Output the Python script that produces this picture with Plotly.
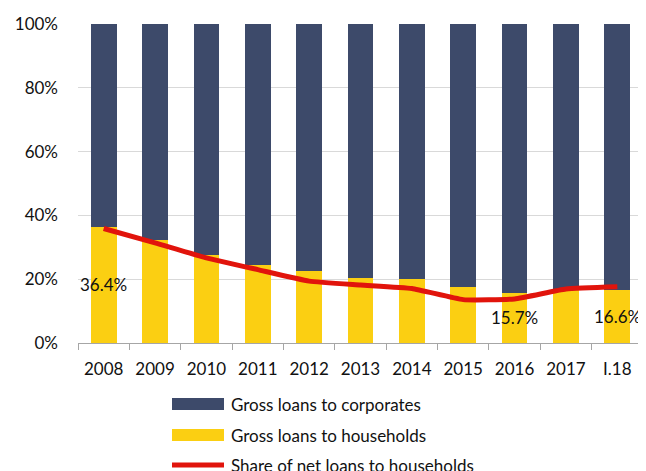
import plotly.graph_objects as go

categories = ["2008", "2009", "2010", "2011", "2012", "2013", "2014", "2015", "2016", "2017", "I.18"]
households = [36.4, 32.2, 27.7, 24.4, 22.5, 20.5, 20.2, 17.5, 15.7, 16.9, 16.6]
corporates = [round(100 - v, 1) for v in households]
net_share = [35.9, 31.4, 26.7, 23.0, 19.4, 18.2, 17.1, 13.6, 13.8, 16.9, 17.6]
labelled = ["2008", "2016", "I.18"]
y_ticks = [0, 20, 40, 60, 80, 100]
y_tick_text = ["0%", "20%", "40%", "60%", "80%", "100%"]

NAVY = "#3D4A6A"
YELLOW = "#FBCF12"
RED = "#E1140C"
FONT = "Lato, Open Sans, sans-serif"

fig = go.Figure()
fig.add_trace(go.Bar(x=categories, y=households, marker=dict(color=YELLOW, line=dict(width=0)),
                     name="Gross loans to households", showlegend=False))
fig.add_trace(go.Bar(x=categories, y=corporates, marker=dict(color=NAVY, line=dict(width=0)),
                     name="Gross loans to corporates", showlegend=False))
fig.add_trace(go.Scatter(x=categories, y=net_share, mode="lines",
                         line=dict(color=RED, width=5, shape="spline", smoothing=0.4),
                         name="Share of net loans to households", showlegend=False))

for i, (c, v) in enumerate(zip(categories, households)):
    if c in labelled:
        # numeric category index so "2008" is not read as position 2008
        fig.add_annotation(x=i, y=v / 2, text=f"{v:.1f}%", showarrow=False,
                           font=dict(size=17, color="#111111", family=FONT))

# Page body has an 8px margin: figure drawn from (8, 8)
OFF = 8
PL, PR, PT, PB = 78, 643, 24, 343  # plot area in window pixels

legend_items = [("Gross loans to corporates", NAVY, "rect", 404),
                ("Gross loans to households", YELLOW, "rect", 435),
                ("Share of net loans to households", RED, "line", 465)]
for text, color, kind, ypx in legend_items:
    yp = (PB - ypx) / (PB - PT)
    x0 = (172 - PL) / (PR - PL)
    x1 = (224 - PL) / (PR - PL)
    if kind == "rect":
        fig.add_shape(type="rect", xref="paper", yref="paper", x0=x0, x1=x1,
                      y0=yp - 6 / (PB - PT), y1=yp + 6 / (PB - PT),
                      fillcolor=color, line=dict(width=0))
    else:
        fig.add_shape(type="line", xref="paper", yref="paper", x0=x0, x1=x1,
                      y0=yp, y1=yp, line=dict(color=color, width=5))
    fig.add_annotation(xref="paper", yref="paper", x=(229 - PL) / (PR - PL), y=yp,
                       xanchor="left", yanchor="middle", text=text, showarrow=False,
                       font=dict(size=17, color="#111111", family=FONT))

W, H = 646 - OFF, 471 - OFF
fig.update_layout(
    width=W, height=H,
    margin=dict(l=PL - OFF, r=646 - PR, t=PT - OFF, b=471 - PB),
    barmode="stack", bargap=0.5,
    plot_bgcolor="white", paper_bgcolor="white",
    font=dict(family=FONT, size=17, color="#111111"),
    showlegend=False,
)
fig.update_xaxes(type="category", range=[-0.5, len(categories) - 0.5],
                 showline=True, linecolor="#A6A6A6", linewidth=1.2,
                 ticks="outside", tickson="boundaries", ticklen=6, tickcolor="#A6A6A6",
                 tickangle=0, ticklabelstandoff=10,
                 tickfont=dict(size=17, family=FONT, color="#111111"), fixedrange=True)
fig.update_yaxes(range=[0, 100], tickvals=y_ticks, ticktext=y_tick_text,
                 showgrid=True, gridcolor="#D9D9D9", gridwidth=1.2, zeroline=False,
                 showline=False, ticks="", ticklabelstandoff=19,
                 tickfont=dict(size=17, family=FONT, color="#111111"), fixedrange=True)

fig.write_html("out.html")
